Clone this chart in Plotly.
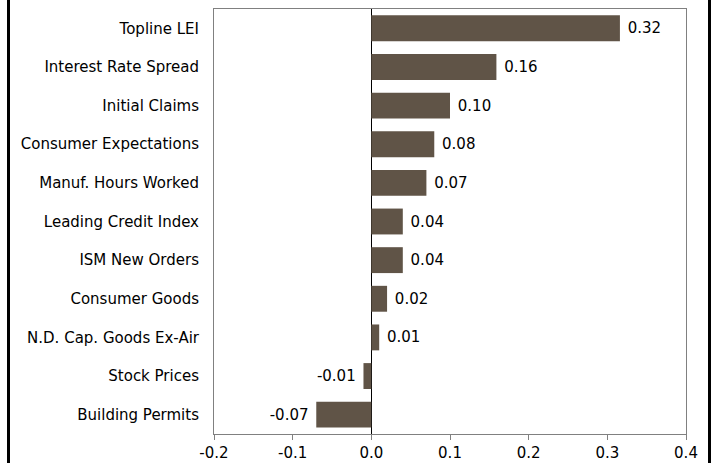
import plotly.graph_objects as go

categories = ["Topline LEI", "Interest Rate Spread", "Initial Claims", "Consumer Expectations",
              "Manuf. Hours Worked", "Leading Credit Index", "ISM New Orders", "Consumer Goods",
              "N.D. Cap. Goods Ex-Air", "Stock Prices", "Building Permits"]
values = [0.316, 0.159, 0.10, 0.08, 0.07, 0.04, 0.04, 0.02, 0.01, -0.01, -0.07]
x_ticks = [-0.2, -0.1, 0.0, 0.1, 0.2, 0.3, 0.4]
x_tick_labels = ["-0.2", "-0.1", "0.0", "0.1", "0.2", "0.3", "0.4"]

W, H = 715, 463
L, R, T, B = 214, 29, 9, 29
pw = W - L - R

labels = [(" " + f"{v:.2f}") if v >= 0 else (f"{v:.2f}" + " ") for v in values]

fig = go.Figure(go.Bar(
    y=categories, x=values, orientation="h",
    marker=dict(color="#605447", line=dict(width=0)),
    width=0.67,
    text=labels, textposition="outside",
    textfont=dict(family="DejaVu Sans", size=15, color="black"),
    cliponaxis=False,
    hoverinfo="skip",
))

fig.update_layout(
    width=W, height=H,
    margin=dict(l=L, r=R, t=T, b=B),
    paper_bgcolor="white", plot_bgcolor="white",
    showlegend=False,
    font=dict(family="DejaVu Sans", size=15, color="black"),
    xaxis=dict(range=[-0.2, 0.4], tickvals=x_ticks, ticktext=x_tick_labels,
               automargin=False,
               showgrid=False, zeroline=True, zerolinecolor="black", zerolinewidth=1,
               showline=True, linecolor="#808080", linewidth=1, mirror=True,
               ticks="outside", ticklen=5, tickcolor="#808080"),
    yaxis=dict(autorange="reversed", showgrid=False, zeroline=False, automargin=False,
               showline=True, linecolor="#808080", linewidth=1, mirror=True,
               ticks="", ticklabelstandoff=11),
    shapes=[
        dict(type="line", xref="paper", yref="paper",
             x0=(8.5 - L) / pw, x1=(8.5 - L) / pw, y0=-1, y1=2,
             line=dict(color="black", width=3)),
        dict(type="line", xref="paper", yref="paper",
             x0=(709.5 - L) / pw, x1=(709.5 - L) / pw, y0=-1, y1=2,
             line=dict(color="black", width=3)),
    ],
)

fig.write_html("out.html", config={"displayModeBar": False},
               post_script="document.body.style.margin='0';")
